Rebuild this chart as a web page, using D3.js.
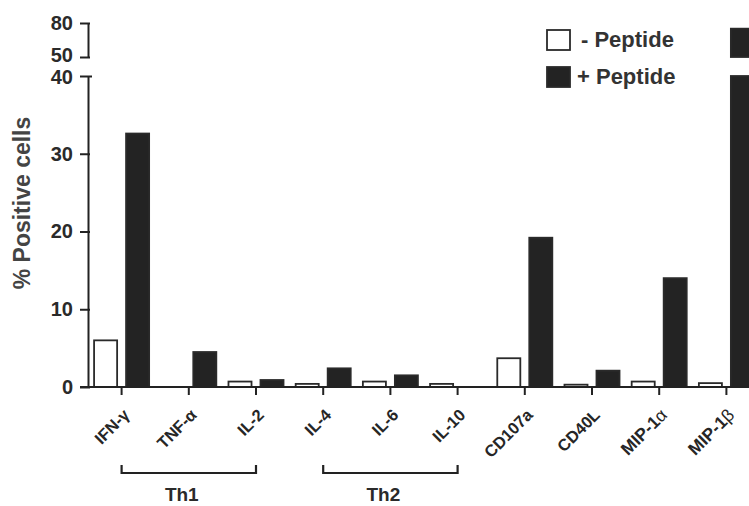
<!DOCTYPE html>
<html>
<head>
<meta charset="utf-8">
<script src="https://cdn.jsdelivr.net/npm/d3@7.9.0/dist/d3.min.js"></script>
<style>
  html, body { margin: 0; padding: 0; background: #fff; }
  svg { display: block; font-family: 'Liberation Sans', Arial, sans-serif; font-weight: bold; }
  .axis path, .axis line { stroke: #222; stroke-width: 2; }
  .axis text { fill: #2a2a2a; font-size: 20px; font-family: 'Liberation Sans', Arial, sans-serif; font-weight: bold; }
</style>
</head>
<body>
<div id="chart"></div>
<script>
const categories = ['IFN-γ', 'TNF-α', 'IL-2', 'IL-4', 'IL-6', 'IL-10', 'CD107a', 'CD40L', 'MIP-1α', 'MIP-1β'];
const minusPeptide = [6.0, 0, 0.7, 0.4, 0.7, 0.4, 3.7, 0.3, 0.7, 0.5];
const plusPeptide = [32.6, 4.5, 0.9, 2.4, 1.5, 0, 19.2, 2.1, 14.0, 75];
const lowerTicks = [0, 10, 20, 30, 40];
const upperTicks = [50, 80];
const groups = [
  { name: 'Th1', from: 0, to: 2 },
  { name: 'Th2', from: 3, to: 5 },
];
const series = [
  { key: 'minus', label: '- Peptide', values: minusPeptide },
  { key: 'plus', label: '+ Peptide', values: plusPeptide },
];

const width = 749;
const height = 506;
const axisX = 88;

const svg = d3
  .select('#chart')
  .append('svg')
  .attr('width', width)
  .attr('height', height);

const x = d3.scaleBand().domain(categories).range([axisX, 760]).padding(0);
const x1 = d3
  .scaleBand()
  .domain(series.map((s) => s.key))
  .range([0, x.bandwidth()])
  .paddingInner(0.28)
  .paddingOuter(0.19);

// broken y axis: two segments
const yLow = d3.scaleLinear().domain([0, 40]).range([387, 76]);
const yHigh = d3.scaleLinear().domain([50, 80]).range([57, 23]);

const colors = { minus: '#fff', plus: '#232323' };

// bars
series.forEach((s) => {
  const g = svg.append('g').attr('class', 'bars-' + s.key);
  const rows = categories.map((c, i) => ({ c, v: s.values[i] })).filter((d) => d.v > 0);

  g.selectAll('rect.low')
    .data(rows)
    .join('rect')
    .attr('class', 'low')
    .attr('x', (d) => x(d.c) + x1(s.key))
    .attr('width', x1.bandwidth())
    .attr('y', (d) => yLow(Math.min(d.v, 40)))
    .attr('height', (d) => yLow(0) - yLow(Math.min(d.v, 40)))
    .attr('fill', colors[s.key])
    .attr('stroke', '#2a2a2a')
    .attr('stroke-width', 1.8);

  g.selectAll('rect.high')
    .data(rows.filter((d) => d.v > 50))
    .join('rect')
    .attr('class', 'high')
    .attr('x', (d) => x(d.c) + x1(s.key))
    .attr('width', x1.bandwidth())
    .attr('y', (d) => yHigh(d.v))
    .attr('height', (d) => yHigh(50) - yHigh(d.v))
    .attr('fill', colors[s.key])
    .attr('stroke', '#2a2a2a')
    .attr('stroke-width', 1.8);
});

// y axes
const yAxisLow = svg
  .append('g')
  .attr('class', 'axis')
  .attr('transform', `translate(${axisX},0)`)
  .call(d3.axisLeft(yLow).tickValues(lowerTicks).tickSize(8).tickSizeOuter(0).tickPadding(7));

const yAxisHigh = svg
  .append('g')
  .attr('class', 'axis')
  .attr('transform', `translate(${axisX},0)`)
  .call(d3.axisLeft(yHigh).tickValues(upperTicks).tickSize(8).tickSizeOuter(0).tickPadding(7));

[yAxisLow, yAxisHigh].forEach((g) => {
  g.selectAll('.tick line').attr('x2', -8).attr('x1', 2);
});
yAxisLow.selectAll('.tick').filter((d) => d === 40).select('line').attr('x1', 4);
// labels at the break sit tight together; nudge them apart a little
yAxisHigh.selectAll('.tick').filter((d) => d === 50).select('text').attr('y', -2);
yAxisLow.selectAll('.tick').filter((d) => d === 40).select('text').attr('y', 1);

// x axis
const xAxis = svg
  .append('g')
  .attr('class', 'axis')
  .attr('transform', `translate(0,${yLow(0)})`)
  .call(d3.axisBottom(x).tickSize(8).tickSizeOuter(0).tickFormat(''));

xAxis.select('.domain').attr('d', `M${axisX - 8},0H760`);

const labels = svg.append('g').attr('class', 'x-labels');
labels
  .selectAll('text')
  .data(categories)
  .join('text')
  .attr('transform', (d) => `translate(${x(d) + x.bandwidth() / 2 + 9},416) rotate(-45)`)
  .attr('text-anchor', 'end')
  .attr('font-size', 16.5)
  .attr('fill', '#262626')
  .each(function (d) {
    const t = d3.select(this);
    if (d.startsWith('MIP')) {
      t.append('tspan').text(d.slice(0, -1)).attr('font-size', 17.5);
      t.append('tspan').text(d.slice(-1)).attr('font-weight', 'normal').attr('font-size', 17.5);
    } else {
      t.text(d);
    }
  });

// group brackets
const center = (i) => x(categories[i]) + x.bandwidth() / 2;
const brackets = svg.append('g').attr('class', 'brackets');
groups.forEach((grp) => {
  const x0 = center(grp.from);
  const x2 = center(grp.to);
  brackets
    .append('path')
    .attr('d', `M${x0},465V473H${x2}V465`)
    .attr('fill', 'none')
    .attr('stroke', '#222')
    .attr('stroke-width', 2.2);
  brackets
    .append('text')
    .attr('x', (x0 + x2) / 2 - 7)
    .attr('y', 501)
    .attr('text-anchor', 'middle')
    .attr('font-size', 19)
    .attr('fill', '#2a2a2a')
    .text(grp.name);
});

// y label
svg
  .append('text')
  .attr('transform', 'translate(30,203) rotate(-90)')
  .attr('text-anchor', 'middle')
  .attr('font-size', 23)
  .attr('fill', '#444')
  .text('% Positive cells');

// legend
const legend = svg.append('g').attr('class', 'legend');
series.forEach((s, i) => {
  const ly = 30 + i * 37;
  legend
    .append('rect')
    .attr('x', 547)
    .attr('y', ly)
    .attr('width', 23)
    .attr('height', 20)
    .attr('fill', colors[s.key])
    .attr('stroke', '#2a2a2a')
    .attr('stroke-width', 1.8);
  legend
    .append('text')
    .attr('x', i === 0 ? 581 : 577)
    .attr('y', ly + 17)
    .attr('font-size', 22)
    .attr('fill', '#333')
    .text(s.label);
});
</script>
</body>
</html>
